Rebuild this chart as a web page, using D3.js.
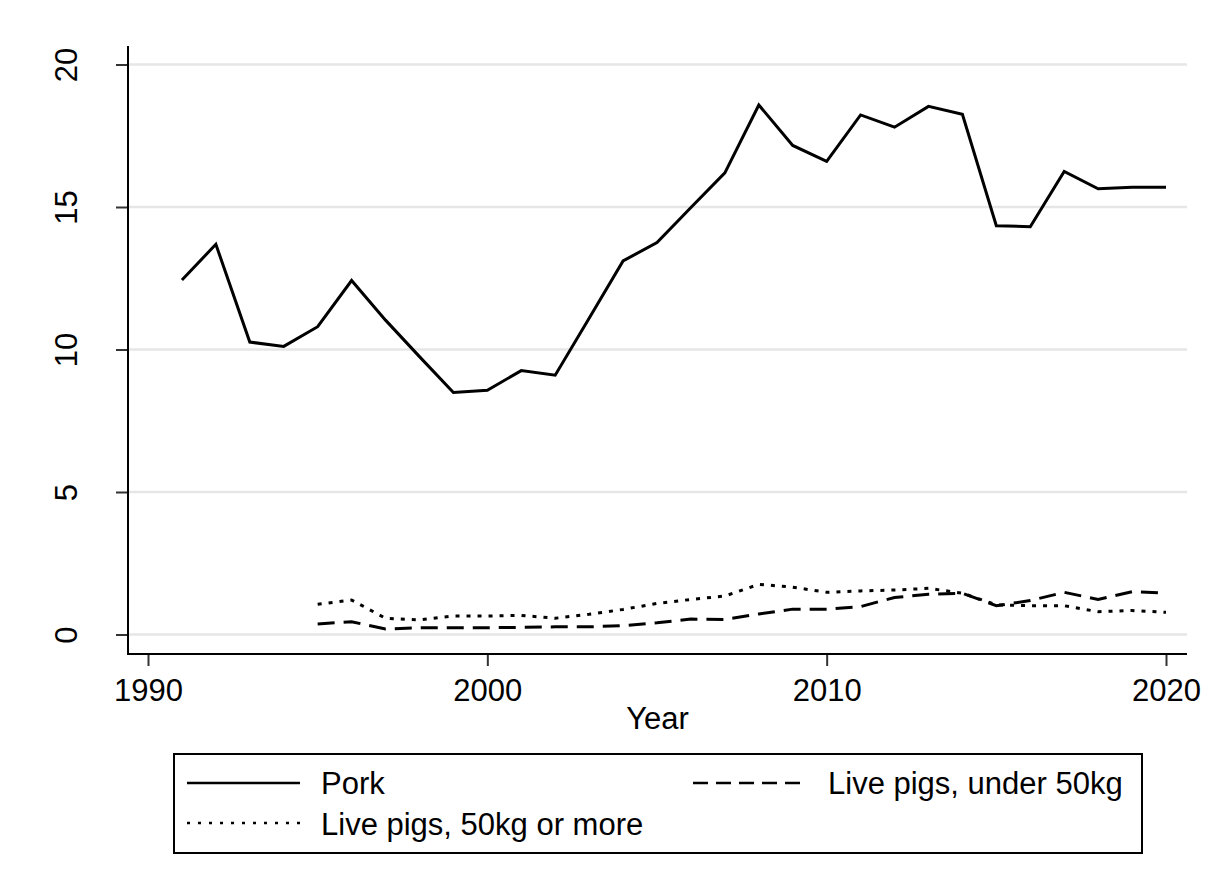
<!DOCTYPE html>
<html>
<head>
<meta charset="utf-8">
<script src="https://cdn.jsdelivr.net/npm/d3@7"></script>
<style>
  html, body { margin: 0; padding: 0; background: #fff; }
  svg { display: block; }
  text { font-family: "Liberation Sans", Arial, sans-serif; fill: #000; }
</style>
</head>
<body>
<svg id="chart" width="1208" height="888"></svg>
<script>
// Annual series, 1991–2020
const years = d3.range(1991, 2021);
const pork = [12.44, 13.69, 10.26, 10.11, 10.80, 12.42, 11.03, 9.75, 8.49, 8.57,
              9.26, 9.10, 11.10, 13.11, 13.75, 14.98, 16.20, 18.58, 17.16, 16.60,
              18.23, 17.80, 18.53, 18.25, 14.34, 14.31, 16.25, 15.64, 15.69, 15.69];
const liveYears = d3.range(1995, 2021);
const liveUnder50 = [0.37, 0.45, 0.19, 0.24, 0.24, 0.24, 0.25, 0.27, 0.27, 0.31,
                     0.41, 0.54, 0.53, 0.72, 0.89, 0.89, 0.98, 1.30, 1.41, 1.45,
                     1.01, 1.19, 1.48, 1.23, 1.50, 1.45];
const live50Plus = [1.06, 1.21, 0.57, 0.51, 0.65, 0.65, 0.67, 0.57, 0.71, 0.88,
                    1.09, 1.23, 1.35, 1.76, 1.66, 1.48, 1.53, 1.56, 1.62, 1.45,
                    1.04, 1.01, 1.01, 0.80, 0.84, 0.78];
const xTicks = [1990, 2000, 2010, 2020];
const yTicks = [0, 5, 10, 15, 20];
const xTitle = "Year";
const legendLabels = ["Pork", "Live pigs, under 50kg", "Live pigs, 50kg or more"];

const svg = d3.select("#chart");
const FS = 31;

const x = d3.scaleLinear().domain([1990, 2020]).range([148, 1166]);
const y = d3.scaleLinear().domain([0, 20]).range([634.5, 64.5]);

const plotLeft = 128, plotRight = 1187, plotTop = 46, plotBottom = 654;

// gridlines
svg.append("g").selectAll("line").data(yTicks).join("line")
  .attr("x1", plotLeft).attr("x2", plotRight)
  .attr("y1", d => y(d)).attr("y2", d => y(d))
  .attr("stroke", "#e6e6e6").attr("stroke-width", 2.5);

// y axis
const yAxis = svg.append("g")
  .attr("transform", `translate(${plotLeft},0)`)
  .call(d3.axisLeft(y).tickValues(yTicks).tickSize(12).tickSizeOuter(0).tickFormat(d3.format("d")));
yAxis.select(".domain").remove();
yAxis.selectAll(".tick line").attr("stroke", "#333").attr("stroke-width", 2);
yAxis.selectAll(".tick text")
  .attr("font-size", FS)
  .attr("font-family", "Liberation Sans, Arial, sans-serif")
  .attr("fill", "#000")
  .attr("text-anchor", "middle")
  .attr("x", null).attr("dy", null)
  .attr("transform", "translate(-51,0) rotate(-90)")
  .attr("y", 0);

// x axis
const xAxis = svg.append("g")
  .attr("transform", `translate(0,${plotBottom})`)
  .call(d3.axisBottom(x).tickValues(xTicks).tickSize(12).tickSizeOuter(0).tickFormat(d3.format("d")));
xAxis.select(".domain").remove();
xAxis.selectAll(".tick line").attr("stroke", "#333").attr("stroke-width", 2);
xAxis.selectAll(".tick text")
  .attr("font-size", FS)
  .attr("font-family", "Liberation Sans, Arial, sans-serif")
  .attr("fill", "#000")
  .attr("dy", null)
  .attr("y", 47);

// axis lines
svg.append("line").attr("x1", plotLeft).attr("x2", plotLeft)
  .attr("y1", plotTop).attr("y2", plotBottom + 1)
  .attr("stroke", "#000").attr("stroke-width", 2);
svg.append("line").attr("x1", plotLeft - 1).attr("x2", plotRight)
  .attr("y1", plotBottom).attr("y2", plotBottom)
  .attr("stroke", "#000").attr("stroke-width", 2);

// x title
svg.append("text").attr("x", (plotLeft + plotRight) / 2).attr("y", 729)
  .attr("text-anchor", "middle").attr("font-size", FS).text(xTitle);

// series
const line = d3.line().x(d => x(d[0])).y(d => y(d[1]));
const styles = [
  { dash: null },
  { dash: "17,9" },
  { dash: "4,7" }
];
const series = [
  d3.zip(years, pork),
  d3.zip(liveYears, liveUnder50),
  d3.zip(liveYears, live50Plus)
];
series.forEach((s, i) => {
  svg.append("path").datum(s)
    .attr("d", line)
    .attr("fill", "none")
    .attr("stroke", "#000")
    .attr("stroke-width", 3)
    .attr("stroke-linejoin", "miter")
    .attr("stroke-dasharray", styles[i].dash);
});

// legend
const lg = svg.append("g");
lg.append("rect").attr("x", 174).attr("y", 754).attr("width", 968).attr("height", 99)
  .attr("fill", "#fff").attr("stroke", "#000").attr("stroke-width", 2);
const legendItems = [
  { lx1: 187, lx2: 300, ly: 783, tx: 321, ty: 794, dash: null },
  { lx1: 693, lx2: 807, ly: 783, tx: 828, ty: 794, dash: "15,8" },
  { lx1: 187, lx2: 300, ly: 823, tx: 321, ty: 835, dash: "3,8" }
];
legendItems.forEach((it, i) => {
  lg.append("line").attr("x1", it.lx1).attr("x2", it.lx2)
    .attr("y1", it.ly).attr("y2", it.ly)
    .attr("stroke", "#000").attr("stroke-width", 2.6)
    .attr("stroke-dasharray", it.dash);
  lg.append("text").attr("x", it.tx).attr("y", it.ty)
    .attr("font-size", FS).text(legendLabels[i]);
});
</script>
</body>
</html>
